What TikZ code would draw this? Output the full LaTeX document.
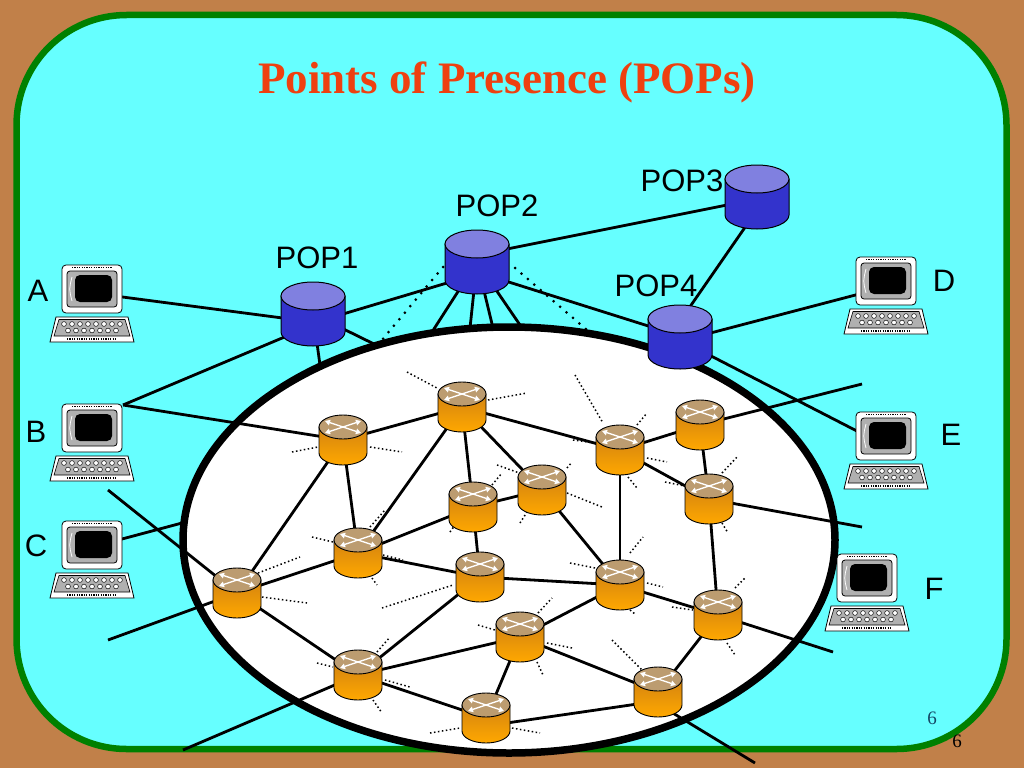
\documentclass[tikz,border=0pt]{standalone}
\usepackage{fontspec}
\setmainfont{Liberation Serif}
\setsansfont{Liberation Sans}
\usetikzlibrary{arrows.meta}

\definecolor{slidebrown}{RGB}{193,128,73}
\definecolor{slidecyan}{RGB}{102,255,255}
\definecolor{framegreen}{RGB}{0,128,0}
\definecolor{titlered}{RGB}{238,64,16}
\definecolor{poptop}{RGB}{128,128,224}
\definecolor{popbody}{RGB}{51,51,204}
\definecolor{routertop}{RGB}{188,156,112}
\definecolor{routerdark}{RGB}{212,132,16}
\definecolor{routerlight}{RGB}{255,168,0}
\definecolor{pcgray}{RGB}{176,176,176}
\definecolor{numteal}{RGB}{20,70,100}

\tikzset{
  wire/.style={line width=2.8pt},
  popdots/.style={line width=3pt, line cap=round, dash pattern=on 0pt off 8.5pt},
  stub/.style={line width=1.5pt, dash pattern=on 1.5pt off 2.5pt},
  rim/.style={line width=7.5pt, fill=white},
  hostlabel/.style={font=\sffamily\fontsize{31}{31}\selectfont, inner sep=0pt},
  titletext/.style={font=\bfseries\fontsize{45}{45}\selectfont, text=titlered, anchor=base, inner sep=0pt},
  xarrow/.style={white, line width=1.3pt, arrows={Triangle[length=5pt,width=5.5pt]-Triangle[length=5pt,width=5.5pt]}},
  router/.pic={
    \path[draw=black, line width=0.9pt, top color=routerdark, bottom color=routerlight]
      (-24,-13) -- (-24,13) arc[start angle=180, end angle=0, x radius=24, y radius=12] -- (24,-13) -- cycle;
    \draw[line width=0.9pt, fill=routertop] (0,-13) ellipse[x radius=24, y radius=12];
    \draw[xarrow] (-18,-19) -- (18,-7);
    \draw[xarrow] (-18,-7) -- (18,-19);
  },
  popdb/.pic={
    \draw[line width=1pt, fill=popbody]
      (-32,-18) -- (-32,18) arc[start angle=180, end angle=0, x radius=32, y radius=14] -- (32,-18) -- cycle;
    \draw[line width=1pt, fill=poptop] (0,-18) ellipse[x radius=32, y radius=14];
  },
  computer/.pic={
    \draw[line width=0.8pt, fill=white, rounded corners=4pt] (-30,-24) rectangle (30,24);
    \draw[line width=1.6pt, dash pattern=on 1.2pt off 1.2pt] (-20,-21.5) -- (20,-21.5);
    \draw[line width=0.8pt, fill=pcgray, rounded corners=3pt] (-25,-18) rectangle (25,18);
    \fill[black, rounded corners=5pt] (-17,-14) rectangle (20,13);
    \draw[white, line width=0.8pt] (-20,-12) .. controls (-23,0) .. (-20,12);
    \draw[line width=0.8pt, fill=white] (-36,28) -- (36,28) -- (42,53) -- (-42,53) -- cycle;
    \draw[line width=0.6pt, fill=pcgray] (-33,30.5) -- (33,30.5) -- (38,47) -- (-38,47) -- cycle;
    \foreach \k in {-28,-20,...,28} \draw[line width=0.5pt, fill=white] (\k,35) circle[radius=2.4];
    \foreach \k in {-24,-16,...,24} \draw[line width=0.5pt, fill=white] (\k,41.5) circle[radius=2.4];
    \draw[line width=1.4pt, dash pattern=on 1.2pt off 1.2pt] (-25,50) -- (25,50);
  }
}

\begin{document}
\begin{tikzpicture}[x=1pt,y=-1pt]
\useasboundingbox (0,0) rectangle (1024,768);
\fill[slidebrown] (0,0) rectangle (1024,768);
\draw[framegreen, line width=6.5pt, fill=slidecyan, rounded corners=110pt] (16.5,15) rectangle (1006.5,749);
\node[titletext] (title) at (507,93) {Points of Presence (POPs)};

% backbone
\draw[rim] (509,540) ellipse[x radius=326, y radius=213];

\foreach \n/\x/\y in {1/343/440, 2/462/407, 3/620/450, 4/700/425, 5/473/507, 6/542/490,
  7/709/499, 8/358/553, 9/480/577, 10/620/585, 11/237/593, 12/718/615, 13/520/637,
  14/358/675, 15/658/692, 16/486/718}
  \coordinate (r\n) at (\x,\y);
\coordinate (pop1) at (313,314);
\coordinate (pop2) at (477,262);
\coordinate (pop3) at (757,197);
\coordinate (pop4) at (680,337);
\coordinate (pcA) at (92,289);
\coordinate (pcB) at (92,428);
\coordinate (pcC) at (92,545);
\coordinate (pcD) at (886,281);
\coordinate (pcE) at (886,436);
\coordinate (pcF) at (867,578);

\coordinate (rim1) at (320,365);
\coordinate (rim2) at (374,344);
\coordinate (rim3) at (382,340);
\coordinate (rim4) at (432,332);
\coordinate (rim5) at (470,328);
\coordinate (rim6) at (493,328);
\coordinate (rim7) at (520,325);
\coordinate (rim8) at (587,330);
\coordinate (rimC) at (182,523);
\coordinate (out1) at (862,384);
\coordinate (out2) at (862,527);
\coordinate (out3) at (833,652);
\coordinate (out4) at (755,763);
\coordinate (out5) at (183,750);
\coordinate (out6) at (108,490);
\coordinate (out7) at (108,640);

% inner links
\foreach \a/\b in {r1/r2, r1/r8, r1/r11, r2/r8, r2/r5, r2/r3, r2/r6, r5/r6, r5/r8, r5/r9,
  r8/r11, r8/r9, r9/r10, r11/r14, r3/r4, r3/r7, r3/r10, r6/r10, r4/r7, r7/r12, r10/r12,
  r10/r13, r12/r15, r14/r9, r14/r13, r14/r16, r16/r13, r13/r15}
  \draw[wire] (\a) -- (\b);
\draw[wire] ([shift={(0,8)}]r16) -- ([shift={(0,9)}]r15);
\draw[wire] (r4) -- (out1);
\draw[wire] (r7) -- (out2);
\draw[wire] (r12) -- (out3);
\draw[wire] ([shift={(0,12)}]r15) -- (out4);
\draw[wire] (r14) -- (out5);
\draw[wire] (out6) -- (r11) -- (out7);

% access links
\draw[wire] ([shift={(0,4)}]pcA) -- ([shift={(0,8)}]pop1);
\draw[wire] ([shift={(31,-23)}]pcB) -- ([shift={(0,11)}]pop1);
\draw[wire] ([shift={(31,-23)}]pcB) -- (r1);
\draw[wire] ([shift={(0,2)}]pcC) -- (rimC);
\draw[wire] (pop1) -- (rim1);
\draw[wire] (pop1) -- (rim2);
\draw[wire] ([shift={(0,9)}]pop1) -- ([shift={(0,12)}]pop2);
\foreach \e in {rim4,rim5,rim6,rim7} \draw[wire] (pop2) -- (\e);
\draw[wire] ([shift={(0,10)}]pop2) -- ([shift={(0,-1)}]pop4);
\draw[wire] ([shift={(0,-7)}]pop2) -- ([shift={(0,2)}]pop3);
\draw[wire] ([shift={(9,0)}]pop3) -- ([shift={(-11,0)}]pop4);
\draw[wire] ([shift={(0,4)}]pop4) -- ([shift={(0,6)}]pcD);
\draw[wire] ([shift={(0,3)}]pop4) -- ([shift={(0,10)}]pcE);
\draw[popdots] ([shift={(-34,5)}]pop2) -- (rim3);
\draw[popdots] ([shift={(38,6)}]pop2) -- (rim8);

% loose ends round the routers
\foreach \r/\dx/\dy/\lx/\ly in {r1/-51/12/26/-5, r1/27/7/32/5, r2/-55/-35/30/16, r2/26/-7/39/-7,
  r3/-45/-75/28/48, r3/17/-25/10/-12, r3/-47/-10/22/3, r3/27/8/20/4, r3/8/27/9/11,
  r5/19/-22/10/-12, r5/-23/25/5/-7, r6/-45/-25/28/10, r6/25/-22/5/-6, r6/25/3/35/14, r6/-22/33/7/-11,
  r7/13/-26/15/-16, r7/-44/-17/20/4, r7/13/24/6/10, r8/-46/-16/21/5, r8/12/-26/15/-17,
  r8/25/2/20/5, r8/14/25/5/7, r9/-98/31/71/-23, r10/10/-32/13/-16, r10/-50/-22/25/5,
  r10/27/-2/16/4, r10/10/25/5/4, r11/21/-20/42/-16, r11/25/4/45/6, r12/17/-27/10/-10,
  r12/-46/-8/21/3, r12/9/28/8/12, r13/18/-24/14/-15, r13/-42/-12/17/5, r13/27/6/25/5,
  r13/17/25/6/13, r14/19/-23/13/-15, r14/-41/-12/16/4, r14/27/5/25/7, r14/15/25/9/13,
  r15/-46/-52/30/30, r16/-56/15/30/-5, r16/26/10/28/5}
  \draw[stub] (\r) ++(\dx,\dy) -- ++(\lx,\ly);

\foreach \n in {1,...,16} \pic at (r\n) {router};
\foreach \n in {1,...,4} \pic at (pop\n) {popdb};
\foreach \n in {A,B,C,D,E,F} \pic at (pc\n) {computer};

\node[hostlabel] (lpop1) at (317,258) {POP1};
\node[hostlabel] (lpop2) at (497,206) {POP2};
\node[hostlabel] (lpop3) at (682,181) {POP3};
\node[hostlabel] (lpop4) at (656,286) {POP4};
\node[hostlabel] (lA) at (38,291) {A};
\node[hostlabel] (lB) at (36,432) {B};
\node[hostlabel] (lC) at (36,546) {C};
\node[hostlabel] (lD) at (944,281) {D};
\node[hostlabel] (lE) at (951,435) {E};
\node[hostlabel] (lF) at (934,589) {F};
\node[text=numteal, font=\fontsize{19}{19}\selectfont, inner sep=0pt] (pnum) at (932,718) {6};
\node[font=\fontsize{19}{19}\selectfont, inner sep=0pt] (pnum2) at (957,741) {6};
\end{tikzpicture}
\end{document}
